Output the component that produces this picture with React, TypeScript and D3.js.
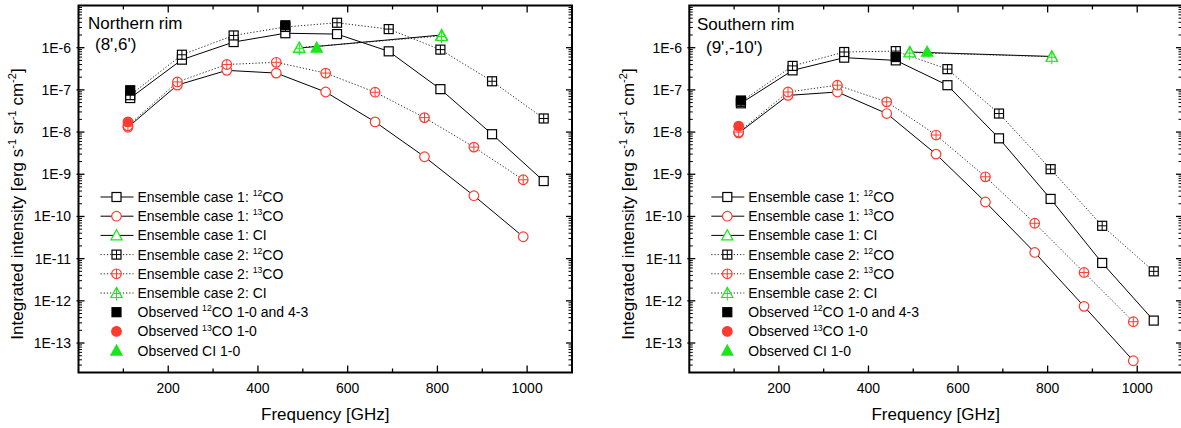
import React from 'react';
import * as d3 from 'd3';

// Frequencies [GHz]
const freq12CO = [115.27, 230.54, 345.8, 461.04, 576.27, 691.47, 806.65, 921.8, 1036.9];
const freq13CO = [110.2, 220.4, 330.6, 440.8, 550.9, 661.1, 771.2, 881.3, 991.3];
const freqCI = [492.16, 809.34];
const freqObs12CO = [115.27, 461.04];
const freqObs13CO = [110.2];
const freqObsCI = [531];

// Northern rim (8',6')
const northCase1_12CO = [6.4e-8, 5.2e-7, 1.36e-6, 2.2e-6, 2.1e-6, 8.2e-7, 1.04e-7, 8.9e-9, 6.9e-10];
const northCase2_12CO = [7.5e-8, 6.8e-7, 1.95e-6, 3.1e-6, 3.9e-6, 2.76e-6, 9.0e-7, 1.6e-7, 2.1e-8];
const northCase1_13CO = [1.3e-8, 1.3e-7, 2.9e-7, 2.5e-7, 8.9e-8, 1.74e-8, 2.6e-9, 3.1e-10, 3.3e-11];
const northCase2_13CO = [1.4e-8, 1.54e-7, 4.0e-7, 4.5e-7, 2.5e-7, 8.8e-8, 2.2e-8, 4.4e-9, 7.4e-10];
const northCase1_CI = [9.8e-7, 2.0e-6];
const northCase2_CI = [1.0e-6, 1.9e-6];
const northObs12CO = [9.8e-8, 3.4e-6];
const northObs13CO = [1.74e-8];
const northObsCI = [1.0e-6];

// Southern rim (9',-10')
const southCase1_12CO = [4.8e-8, 2.9e-7, 5.8e-7, 5.0e-7, 1.29e-7, 7.1e-9, 2.6e-10, 7.9e-12, 3.4e-13];
const southCase2_12CO = [5.2e-8, 3.7e-7, 7.9e-7, 8.3e-7, 3.1e-7, 2.75e-8, 1.32e-9, 6.0e-11, 5.0e-12];
const southCase1_13CO = [9.5e-9, 7.4e-8, 8.9e-8, 2.75e-8, 3.0e-9, 2.2e-10, 1.4e-11, 7.4e-13, 3.8e-14];
const southCase2_13CO = [1.0e-8, 8.9e-8, 1.29e-7, 5.2e-8, 8.5e-9, 8.7e-10, 6.9e-11, 4.7e-12, 3.2e-13];
const southCase1_CI = [7.9e-7, 6.2e-7];
const southCase2_CI = [7.7e-7, 6.1e-7];
const southObs12CO = [5.6e-8, 6.0e-7];
const southObs13CO = [1.38e-8];
const southObsCI = [8.0e-7];

// Axes
const xMajorTicks = [200, 400, 600, 800, 1000];
const xMinorTicks = [100, 300, 500, 700, 900, 1100];
const yMajorTicks = [1e-13, 1e-12, 1e-11, 1e-10, 1e-9, 1e-8, 1e-7, 1e-6];
const yTickLabels = ['1E-13', '1E-12', '1E-11', '1E-10', '1E-9', '1E-8', '1E-7', '1E-6'];

const legendLabels = [
  { pre: 'Ensemble case 1: ', sup: '12', post: 'CO' },
  { pre: 'Ensemble case 1: ', sup: '13', post: 'CO' },
  { pre: 'Ensemble case 1: CI', sup: '', post: '' },
  { pre: 'Ensemble case 2: ', sup: '12', post: 'CO' },
  { pre: 'Ensemble case 2: ', sup: '13', post: 'CO' },
  { pre: 'Ensemble case 2: CI', sup: '', post: '' },
  { pre: 'Observed ', sup: '12', post: 'CO 1-0 and 4-3' },
  { pre: 'Observed ', sup: '13', post: 'CO 1-0' },
  { pre: 'Observed CI 1-0', sup: '', post: '' },
];

const RED = '#ff3b2f';
const GREEN = '#18e818';
const FONT = '"Liberation Sans", Arial, Helvetica, sans-serif';

type MarkerType = 'sq' | 'sqplus' | 'circ' | 'circplus' | 'tri' | 'triplus' | 'sqfill' | 'circfill' | 'trifill';

function Marker({ type, x, y, color }: { type: MarkerType; x: number; y: number; color: string }) {
  const sw = 1.2;
  const s = 4.5;
  const r = 4.8;
  const t = 5.6;
  const triPts = `${x},${y - t} ${x + t},${y + t * 0.8} ${x - t},${y + t * 0.8}`;
  switch (type) {
    case 'sq':
      return <rect x={x - s} y={y - s} width={2 * s} height={2 * s} fill="white" stroke={color} strokeWidth={sw} />;
    case 'sqplus':
      return (
        <g>
          <rect x={x - s} y={y - s} width={2 * s} height={2 * s} fill="white" stroke={color} strokeWidth={sw} />
          <line x1={x - s} x2={x + s} y1={y} y2={y} stroke={color} strokeWidth={1} />
          <line x1={x} x2={x} y1={y - s} y2={y + s} stroke={color} strokeWidth={1} />
        </g>
      );
    case 'sqfill':
      return <rect x={x - s} y={y - s} width={2 * s} height={2 * s} fill={color} stroke={color} strokeWidth={sw} />;
    case 'circ':
      return <circle cx={x} cy={y} r={r} fill="white" stroke={color} strokeWidth={sw} />;
    case 'circplus':
      return (
        <g>
          <circle cx={x} cy={y} r={r} fill="white" stroke={color} strokeWidth={sw} />
          <line x1={x - r} x2={x + r} y1={y} y2={y} stroke={color} strokeWidth={1} />
          <line x1={x} x2={x} y1={y - r} y2={y + r} stroke={color} strokeWidth={1} />
        </g>
      );
    case 'circfill':
      return <circle cx={x} cy={y} r={r} fill={color} stroke={color} strokeWidth={sw} />;
    case 'tri':
      return <polygon points={triPts} fill="white" stroke={color} strokeWidth={sw} />;
    case 'triplus':
      return (
        <g>
          <polygon points={triPts} fill="white" stroke={color} strokeWidth={sw} />
          <line x1={x - t * 0.6} x2={x + t * 0.6} y1={y + t * 0.1} y2={y + t * 0.1} stroke={color} strokeWidth={1} />
          <line x1={x} x2={x} y1={y - t} y2={y + t * 0.8 + 3} stroke={color} strokeWidth={1} />
        </g>
      );
    case 'trifill':
      return <polygon points={triPts} fill={color} stroke={color} strokeWidth={sw} />;
  }
  return null;
}

type Series = {
  xs: number[];
  ys: number[];
  marker: MarkerType;
  color: string;
  line: 'solid' | 'dot' | 'none';
};

function makeSeries(c1_12: number[], c1_13: number[], c1_ci: number[], c2_12: number[], c2_13: number[], c2_ci: number[], o12: number[], o13: number[], oci: number[]): Series[] {
  return [
    { xs: freq12CO, ys: c1_12, marker: 'sq', color: '#000', line: 'solid' },
    { xs: freq13CO, ys: c1_13, marker: 'circ', color: RED, line: 'solid' },
    { xs: freqCI, ys: c1_ci, marker: 'tri', color: GREEN, line: 'solid' },
    { xs: freq12CO, ys: c2_12, marker: 'sqplus', color: '#000', line: 'dot' },
    { xs: freq13CO, ys: c2_13, marker: 'circplus', color: RED, line: 'dot' },
    { xs: freqCI, ys: c2_ci, marker: 'triplus', color: GREEN, line: 'dot' },
    { xs: freqObs12CO, ys: o12, marker: 'sqfill', color: '#000', line: 'none' },
    { xs: freqObs13CO, ys: o13, marker: 'circfill', color: RED, line: 'none' },
    { xs: freqObsCI, ys: oci, marker: 'trifill', color: GREEN, line: 'none' },
  ];
}

function SupText({ x, y, pre, sup, post, size, anchor, rotate }: any) {
  return (
    <text x={x} y={y} fontSize={size} fontFamily={FONT} textAnchor={anchor || 'start'} transform={rotate ? `rotate(-90 ${x} ${y})` : undefined}>
      {pre}
      {sup ? (
        <>
          <tspan dy={-size * 0.42} fontSize={size * 0.62}>{sup}</tspan>
          <tspan dy={size * 0.42}>{post}</tspan>
        </>
      ) : (
        post
      )}
    </text>
  );
}

function Panel({ left, right, series, title, subtitle, titleX, subX, titleY, subY, yLabelX, tickLabelRight }: any) {
  const top = 5.5;
  const bottom = 372.5;
  const x = d3.scaleLinear().domain([0, 1100]).range([left, right]);
  const y = d3.scaleLog().domain([2e-14, 1e-5]).range([bottom, top]);
  const line = d3.line<[number, number]>().x((d) => x(d[0])).y((d) => y(d[1]));

  // minor y ticks
  const yMinor: number[] = [];
  for (let e = -14; e <= -6; e++) {
    for (let m = 2; m <= 9; m++) {
      const v = m * Math.pow(10, e);
      if (v >= 2e-14 && v <= 1e-5) yMinor.push(v);
    }
  }

  const legendLineX0 = left + 22;
  const legendLineX1 = left + 55;
  const legendMarkX = left + 38;
  const legendTextX = left + 59;
  const legendY0 = 197;
  const legendDy = 19.2;

  return (
    <g>
      {/* frame */}
      <rect x={left} y={top} width={right - left} height={bottom - top} fill="none" stroke="#000" strokeWidth={2} />
      {/* x ticks bottom & top */}
      {xMajorTicks.map((t) => (
        <g key={'xm' + t}>
          <line x1={x(t)} x2={x(t)} y1={bottom} y2={bottom - 7} stroke="#000" strokeWidth={1.3} />
          <line x1={x(t)} x2={x(t)} y1={top} y2={top + 7} stroke="#000" strokeWidth={1.3} />
          <text x={x(t)} y={392.5} fontSize={14} fontFamily={FONT} textAnchor="middle">{t}</text>
        </g>
      ))}
      {xMinorTicks.map((t) => (
        <g key={'xn' + t}>
          <line x1={x(t)} x2={x(t)} y1={bottom} y2={bottom - 4} stroke="#000" strokeWidth={1.3} />
          <line x1={x(t)} x2={x(t)} y1={top} y2={top + 4} stroke="#000" strokeWidth={1.3} />
        </g>
      ))}
      {/* y ticks */}
      {yMajorTicks.map((t, i) => (
        <g key={'ym' + i}>
          <line x1={left - 2} x2={left + 6} y1={y(t)} y2={y(t)} stroke="#000" strokeWidth={1.3} />
          <line x1={right - 6} x2={right} y1={y(t)} y2={y(t)} stroke="#000" strokeWidth={1.3} />
          <text x={tickLabelRight} y={y(t) + 5} fontSize={14} fontFamily={FONT} textAnchor="end">{yTickLabels[i]}</text>
        </g>
      ))}
      {yMinor.map((t, i) => (
        <g key={'yn' + i}>
          <line x1={left} x2={left + 3.5} y1={y(t)} y2={y(t)} stroke="#000" strokeWidth={1} />
          <line x1={right - 3.5} x2={right} y1={y(t)} y2={y(t)} stroke="#000" strokeWidth={1} />
        </g>
      ))}
      {/* lines */}
      {series.map((s: Series, i: number) =>
        s.line === 'none' ? null : (
          <path
            key={'l' + i}
            d={line(s.xs.map((v, j) => [v, s.ys[j]] as [number, number])) || ''}
            fill="none"
            stroke={s.line === 'dot' ? '#222' : '#000'}
            strokeWidth={1}
            strokeDasharray={s.line === 'dot' ? '1.2,2' : undefined}
          />
        )
      )}
      {/* markers */}
      {series.map((s: Series, i: number) => (
        <g key={'m' + i}>
          {s.xs.map((v, j) => (
            <Marker key={j} type={s.marker} x={x(v)} y={y(s.ys[j])} color={s.color} />
          ))}
        </g>
      ))}
      {/* legend */}
      {series.map((s: Series, i: number) => {
        const ly = legendY0 + i * legendDy;
        const lab = legendLabels[i];
        return (
          <g key={'lg' + i}>
            {s.line !== 'none' && (
              <line
                x1={legendLineX0}
                x2={legendLineX1}
                y1={ly}
                y2={ly}
                stroke={s.line === 'dot' ? '#222' : '#000'}
                strokeWidth={1}
                strokeDasharray={s.line === 'dot' ? '1.2,2' : undefined}
              />
            )}
            <Marker type={s.marker} x={legendMarkX} y={ly} color={s.color} />
            <SupText x={legendTextX} y={ly + 5} pre={lab.pre} sup={lab.sup} post={lab.post} size={14} />
          </g>
        );
      })}
      {/* titles */}
      <text x={titleX} y={titleY} fontSize={17} fontFamily={FONT}>{title}</text>
      <text x={subX} y={subY} fontSize={17} fontFamily={FONT}>{subtitle}</text>
      {/* axis labels */}
      <text x={(left + right) / 2} y={420} fontSize={17} fontFamily={FONT} textAnchor="middle">Frequency [GHz]</text>
      <text x={yLabelX} y={204} fontSize={17} fontFamily={FONT} textAnchor="middle" transform={`rotate(-90 ${yLabelX} 204)`}>
        Integrated intensity [erg s<tspan dy={-7} fontSize={11}>-1</tspan>
        <tspan dy={7}> sr</tspan>
        <tspan dy={-7} fontSize={11}>-1</tspan>
        <tspan dy={7}> cm</tspan>
        <tspan dy={-7} fontSize={11}>-2</tspan>
        <tspan dy={7}>]</tspan>
      </text>
    </g>
  );
}

export default function App() {
  const north = makeSeries(northCase1_12CO, northCase1_13CO, northCase1_CI, northCase2_12CO, northCase2_13CO, northCase2_CI, northObs12CO, northObs13CO, northObsCI);
  const south = makeSeries(southCase1_12CO, southCase1_13CO, southCase1_CI, southCase2_12CO, southCase2_13CO, southCase2_CI, southObs12CO, southObs13CO, southObsCI);
  return (
    <svg width={1181} height={428} style={{ position: 'absolute', left: 0, top: 0, background: 'white' }}>
      <rect width={1181} height={428} fill="white" />
      <Panel left={78.5} right={572} series={north} title="Northern rim" subtitle="(8',6')" titleX={88} subX={95} titleY={29} subY={50} yLabelX={23} tickLabelRight={71} />
      <Panel left={689.3} right={1182} series={south} title="Southern rim" subtitle="(9',-10')" titleX={697} subX={706} titleY={30} subY={53} yLabelX={634} tickLabelRight={682} />
    </svg>
  );
}
